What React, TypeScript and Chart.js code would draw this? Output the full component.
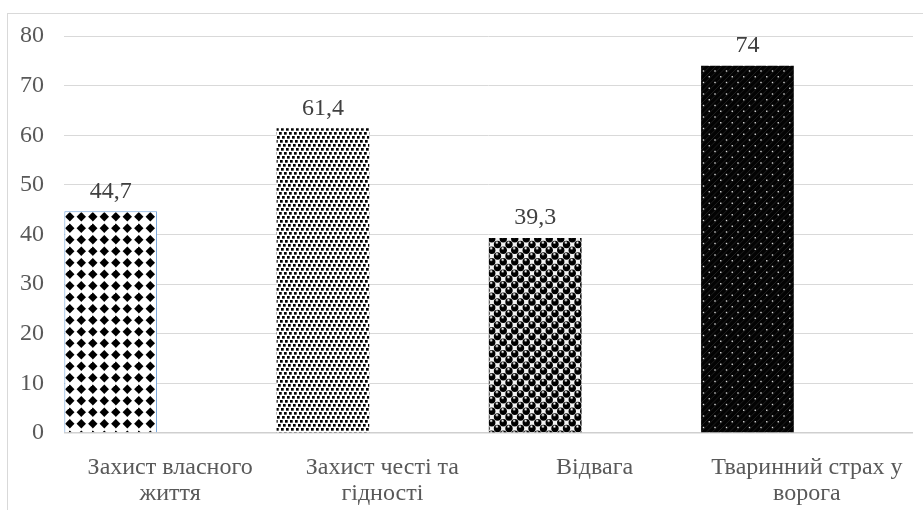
import React, { useEffect, useRef } from "react";
import { Chart, registerables } from "chart.js";

Chart.register(...registerables);

const categories: (string | string[])[] = [
  ["Захист власного", "життя"],
  ["Захист честі та", "гідності"],
  "Відвага",
  ["Тваринний страх у", "ворога"],
];
const values = [44.7, 61.4, 39.3, 74];
const valueLabels = ["44,7", "61,4", "39,3", "74"];
const spacerValues = [0, 0, 0, 0];
const yTickLabels = ["0", "10", "20", "30", "40", "50", "60", "70", "80"];
const yMin = 0;
const yMax = 80;
const yStep = 10;

const FONT = '"Liberation Serif", "Times New Roman", serif';

function makeTile(w: number, h: number, draw: (g: CanvasRenderingContext2D) => void) {
  const c = document.createElement("canvas");
  c.width = w;
  c.height = h;
  const g = c.getContext("2d")!;
  draw(g);
  return c;
}

function lattice(period: number, ox: number, oy: number, fn: (x: number, y: number) => void) {
  for (let i = -2; i <= 4; i++) {
    for (let j = -2; j <= 4; j++) {
      fn(ox + i * period, oy + j * period);
    }
  }
}

function buildPatterns(ctx: CanvasRenderingContext2D): CanvasPattern[] {
  const P = 11.5;
  const diamonds = makeTile(23, 23, (g) => {
    g.fillStyle = "#ffffff";
    g.fillRect(0, 0, 23, 23);
    g.fillStyle = "#000000";
    lattice(P, 0.8, 9.7, (x, y) => {
      const r = 4.7;
      g.beginPath();
      g.moveTo(x, y - r);
      g.lineTo(x + r, y);
      g.lineTo(x, y + r);
      g.lineTo(x - r, y);
      g.closePath();
      g.fill();
    });
  });
  const confetti = makeTile(5, 20, (g) => {
    g.fillStyle = "#ffffff";
    g.fillRect(0, 0, 5, 20);
    g.fillStyle = "#000000";
    for (let k = 0; k < 5; k++) {
      const x = (k * 3) % 5;
      const y = k * 4;
      g.fillRect(x, y, 2.7, 2.7);
      g.fillRect(x - 5, y, 2.7, 2.7);
    }
  });
  const spheres = makeTile(23, 23, (g) => {
    g.fillStyle = "#f2f2f2";
    g.fillRect(0, 0, 23, 23);
    const draw = (x: number, y: number) => {
      g.fillStyle = "#000000";
      g.beginPath();
      g.arc(x, y, 3.7, 0, Math.PI * 2);
      g.fill();
      g.fillStyle = "#8a8a8a";
      g.beginPath();
      g.arc(x - 0.6, y - 1.8, 1.4, 0, Math.PI * 2);
      g.fill();
      g.fillStyle = "#ffffff";
      g.beginPath();
      g.arc(x - 0.6, y - 2.0, 0.7, 0, Math.PI * 2);
      g.fill();
    };
    lattice(P, 3, 3, draw);
    lattice(P, 3 + P / 2, 3 + P / 2, draw);
  });
  const dots = makeTile(23, 23, (g) => {
    g.fillStyle = "#030303";
    g.fillRect(0, 0, 23, 23);
    g.strokeStyle = "#1c1c1c";
    g.lineWidth = 1;
    for (let k = -23; k <= 46; k += 5.75) {
      g.beginPath();
      g.moveTo(k, 23);
      g.lineTo(k + 23, 0);
      g.stroke();
    }
    g.fillStyle = "#dcdcdc";
    const draw = (x: number, y: number) => g.fillRect(x - 0.7, y - 0.7, 1.4, 1.4);
    lattice(P, 2, 2, draw);
    lattice(P, 2 + P / 2, 2 + P / 2, draw);
  });
  return [
    ctx.createPattern(diamonds, "repeat")!,
    ctx.createPattern(confetti, "repeat")!,
    ctx.createPattern(spheres, "repeat")!,
    ctx.createPattern(dots, "repeat")!,
  ];
}

const valueLabelPlugin = {
  id: "valueLabels",
  afterDatasetsDraw(chart: any) {
    const meta = chart.getDatasetMeta(0);
    const ctx = chart.ctx as CanvasRenderingContext2D;
    ctx.save();
    ctx.font = `24px ${FONT}`;
    ctx.fillStyle = "#404040";
    ctx.textAlign = "center";
    ctx.textBaseline = "alphabetic";
    meta.data.forEach((bar: any, i: number) => {
      ctx.fillText(valueLabels[i], bar.x, bar.y - 13.5);
    });
    ctx.restore();
  },
};

export default function App() {
  const ref = useRef<HTMLCanvasElement | null>(null);

  useEffect(() => {
    const canvas = ref.current!;
    const ctx = canvas.getContext("2d")!;
    const patterns = buildPatterns(ctx);
    const chart = new Chart(canvas, {
      type: "bar",
      data: {
        labels: categories as any,
        datasets: [
          {
            data: values,
            backgroundColor: patterns as any,
            borderColor: ["#6f9fd8", "rgba(0,0,0,0)", "rgba(0,0,0,0)", "rgba(0,0,0,0)"],
            borderWidth: [1, 0, 0, 0] as any,
            categoryPercentage: 1.12,
            barPercentage: 0.78,
          },
          {
            data: spacerValues,
            backgroundColor: "rgba(0,0,0,0)",
            borderWidth: 0,
            categoryPercentage: 1.12,
            barPercentage: 0.78,
          },
        ],
      },
      options: {
        responsive: false,
        animation: false,
        devicePixelRatio: 1,
        layout: { padding: { left: 0, right: 10, top: 36, bottom: 0 } },
        plugins: {
          legend: { display: false },
          tooltip: { enabled: false },
        },
        scales: {
          x: {
            grid: { display: false, drawTicks: false },
            border: { display: false },
            ticks: {
              autoSkip: false,
              maxRotation: 0,
              minRotation: 0,
              padding: 22,
              color: "#595959",
              font: { family: FONT, size: 24, lineHeight: "26px" as any },
            },
            afterFit: (scale: any) => {
              scale.height = 77;
              scale.paddingLeft = 0;
              scale.paddingRight = 0;
            },
          },
          y: {
            min: yMin,
            max: yMax,
            grid: {
              drawTicks: false,
              color: (c: any) => (c.tick && c.tick.value === 0 ? "#cfcfcf" : "#d9d9d9"),
              lineWidth: (c: any) => (c.tick && c.tick.value === 0 ? 1.5 : 1),
            },
            border: { display: false },
            ticks: {
              stepSize: yStep,
              padding: 20,
              color: "#595959",
              font: { family: FONT, size: 24 },
              callback: (_v: any, i: number) => yTickLabels[i],
            },
            afterFit: (scale: any) => {
              scale.width = 64;
              scale.paddingTop = 0;
              scale.paddingBottom = 0;
            },
          },
        },
      },
      plugins: [valueLabelPlugin],
    });
    return () => chart.destroy();
  }, []);

  return (
    <>
      <div
        style={{
          position: "fixed",
          left: 7,
          top: 13,
          width: 1000,
          height: 1000,
          border: "1px solid #d9d9d9",
          boxSizing: "border-box",
          zIndex: 0,
        }}
      />
      <canvas
        ref={ref}
        width={923}
        height={510}
        style={{ position: "fixed", left: 0, top: 0, width: 923, height: 510, zIndex: 1 }}
      />
    </>
  );
}
